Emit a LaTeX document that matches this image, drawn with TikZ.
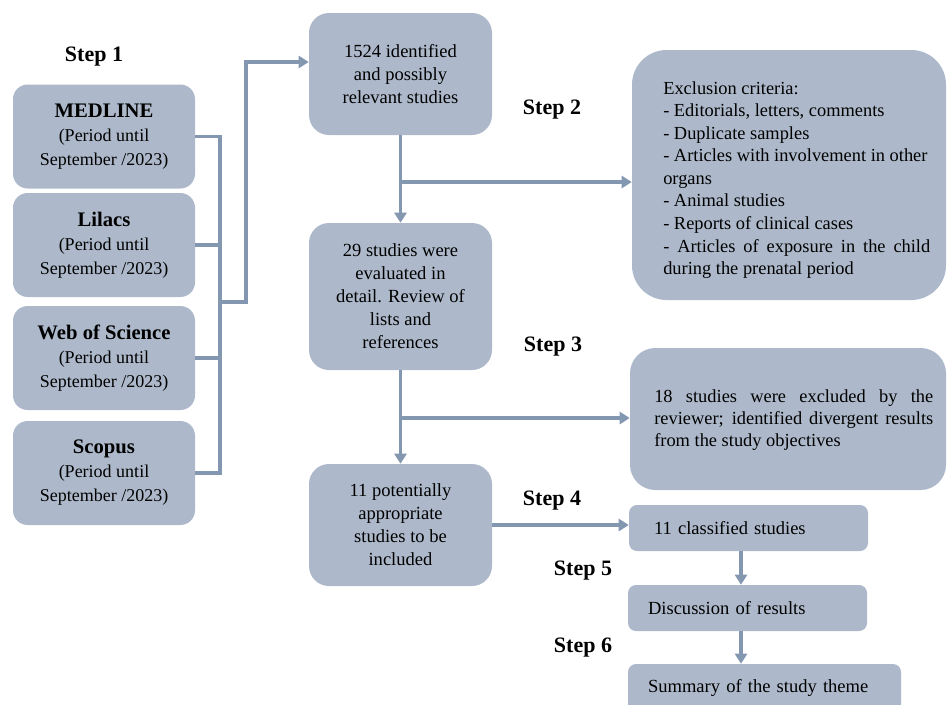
\documentclass[tikz,border=0pt]{standalone}
\usepackage{fontspec}
\setmainfont{Liberation Serif}
\usetikzlibrary{arrows.meta,calc}
\definecolor{boxfill}{HTML}{ADB9CA}
\definecolor{lncol}{HTML}{8497B0}
\newcommand{\srctitle}[1]{{\fontsize{15.5}{19}\selectfont\bfseries #1}}
\tikzset{
  basebox/.style={fill=boxfill, draw=none, inner sep=0pt, align=center,
    font=\fontsize{13.9}{17.25}\selectfont},
  srcbox/.style={basebox, rounded corners=11pt, minimum width=136.5pt, minimum height=78pt,
    font=\fontsize{13.5}{18}\selectfont},
  midbox/.style={basebox, rounded corners=15pt, minimum width=137.25pt},
  smallbox/.style={basebox, rounded corners=6pt, minimum height=34.5pt, align=left},
  bodytxt/.style={inner sep=0pt, align=left, anchor=west, font=\fontsize{13.8}{16.9}\selectfont},
  steplbl/.style={inner sep=0pt, font=\fontsize{16.5}{18}\selectfont\bfseries},
  conn/.style={draw=lncol, line width=2.8pt},
  arr/.style={conn, -{Triangle[width=9pt,length=7.5pt]}}
}
\begin{document}
\begin{tikzpicture}[x=0.75pt,y=-0.75pt]
\useasboundingbox (0,0) rectangle (948,704);
\clip (0,0) rectangle (948,704);

% step labels
\node[steplbl] (s1) at (94,57) {Step 1};
\node[steplbl] (s2) at (552,110) {Step 2};
\node[steplbl] (s3) at (553,347) {Step 3};
\node[steplbl] (s4) at (552,501) {Step 4};
\node[steplbl] (s5) at (583,571) {Step 5};
\node[steplbl] (s6) at (583,648) {Step 6};

% source boxes
\node[srcbox] (med) at (104,136.5) {\srctitle{MEDLINE}\\(Period until\\September /2023)};
\node[srcbox] (lil) at (104,245) {\srctitle{Lilacs}\\(Period until\\September /2023)};
\node[srcbox] (wos) at (104,358) {\srctitle{Web of Science}\\(Period until\\September /2023)};
\node[srcbox] (sco) at (104,473) {\srctitle{Scopus}\\(Period until\\September /2023)};

% middle column
\node[midbox, minimum height=91.5pt] (n1524) at (400.5,74) {1524 identified\\and possibly\\relevant studies};
\node[midbox, minimum height=110.25pt] (n29) at (400.5,296.5) {29 studies were\\evaluated in\\detail. Review of\\lists and\\references};
\node[midbox, minimum height=91.5pt] (n11p) at (400.5,525) {11 potentially\\appropriate\\studies to be\\included};

% right column
\node[basebox, rounded corners=26pt, minimum width=235.5pt, minimum height=187.5pt] (excl) at (789,175) {};
\node[bodytxt] (excltxt) at (663,180) {Exclusion criteria:\\
- Editorials, letters, comments\\
- Duplicate samples\\
- Articles with involvement in other\\
organs\\
- Animal studies\\
- Reports of clinical cases\\
\makebox[200.25pt][s]{- Articles of exposure in the child}\\
during the prenatal period};

\node[basebox, rounded corners=19pt, minimum width=237pt, minimum height=106.5pt] (n18) at (788,419) {};
\node[bodytxt, font=\fontsize{13.8}{16.5}\selectfont] (n18txt) at (654,420) {\makebox[209.25pt][s]{18 studies were excluded by the}\\
\makebox[209.25pt][s]{reviewer; identified divergent results}\\
from the study objectives};

\node[smallbox, text width=141.75pt, inner xsep=18.75pt] (n11c) at (748.5,528) {11 classified studies};
\node[smallbox, text width=149.25pt, inner xsep=15pt] (disc) at (747.5,608) {Discussion of results};
\node[smallbox, text width=174.75pt, inner xsep=15pt, minimum height=36pt] (summ) at (764.5,688) {Summary of the study theme};

% bracket from sources
\coordinate (jn) at (220,302);
\coordinate (up) at (246,302);
\draw[conn] (med.east) -| (jn);
\draw[conn] (sco.east) -| (jn);
\draw[conn] (lil.east) -- (lil.east -| jn);
\draw[conn] (wos.east) -- (wos.east -| jn);
\draw[arr] (jn) -- (up) |- ($(n1524.west)+(0,-12)$);

% step 2
\draw[arr] (n1524.south) -- (n29.north);
\coordinate (b2) at (400.5,182);
\draw[arr] (b2) -- (b2 -| excl.west);

% step 3
\draw[arr] (n29.south) -- (n11p.north);
\coordinate (b3) at (400.5,418);
\draw[arr] (b3) -- (b3 -| n18.west);

% step 4-6
\draw[arr] (n11p.east) -- (n11p.east -| n11c.west);
\draw[arr] (741,0 |- n11c.south) -- (741,0 |- disc.north);
\draw[arr] (741,0 |- disc.south) -- (741,0 |- summ.north);
\end{tikzpicture}
\end{document}
